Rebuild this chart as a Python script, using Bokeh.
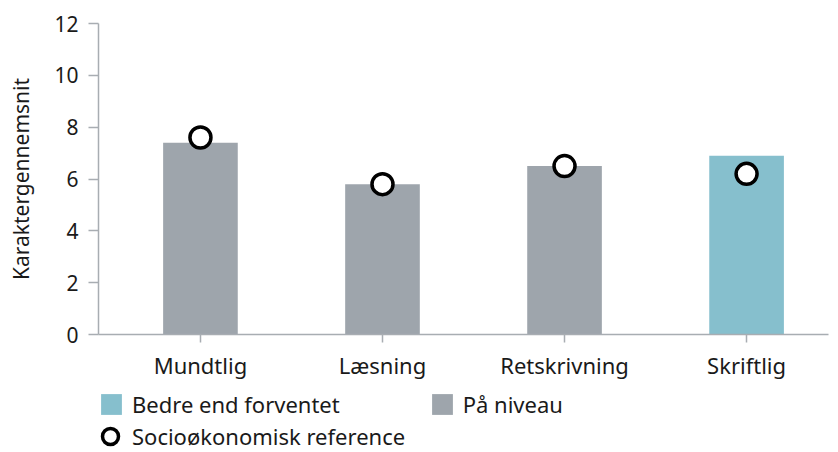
from bokeh.plotting import figure
from bokeh.layouts import column
from bokeh.models import Range1d, FixedTicker, Legend, LegendItem, ColumnDataSource
from bokeh.embed import file_html
from bokeh.resources import INLINE

categories = ["Mundtlig", "Læsning", "Retskrivning", "Skriftlig"]
karakter = [7.4, 5.8, 6.5, 6.9]
status = ["På niveau", "På niveau", "På niveau", "Bedre end forventet"]
reference = [7.6, 5.8, 6.5, 6.2]
y_ticks = [0, 2, 4, 6, 8, 10, 12]

FONT = "Noto Sans"
GRAY = "#9ea5ac"
TEAL = "#86bfcd"
AXIS = "#a8adb2"
TXT = "#1a1a1a"

xs = list(range(len(categories)))

gray_idx = [i for i, s in enumerate(status) if s == "På niveau"]
teal_idx = [i for i, s in enumerate(status) if s == "Bedre end forventet"]
src_gray = ColumnDataSource(dict(x=[xs[i] for i in gray_idx], top=[karakter[i] for i in gray_idx]))
src_teal = ColumnDataSource(dict(x=[xs[i] for i in teal_idx], top=[karakter[i] for i in teal_idx]))
src_ref = ColumnDataSource(dict(x=xs, y=reference))


def add_marks(fig):
    g = fig.vbar(x="x", top="top", bottom=0, width=0.41, source=src_gray,
                 fill_color=GRAY, line_color=None)
    t = fig.vbar(x="x", top="top", bottom=0, width=0.41, source=src_teal,
                 fill_color=TEAL, line_color=None)
    r = fig.scatter(x="x", y="y", source=src_ref, marker="circle", size=21,
                    fill_color="white", line_color="black", line_width=3.5)
    return g, t, r


p = figure(width=830, height=382, output_backend="svg", toolbar_location=None,
           x_range=Range1d(-0.56, 3.45), y_range=Range1d(0, 12),
           min_border_left=98, min_border_right=2, min_border_top=23,
           min_border_bottom=45)
p.outline_line_color = None
p.grid.visible = False
add_marks(p)

for ax in (p.xaxis[0], p.yaxis[0]):
    ax.axis_line_color = AXIS
    ax.major_tick_line_color = AXIS
    ax.minor_tick_line_color = None
    ax.major_label_text_font = FONT
    ax.major_label_text_color = TXT
    ax.axis_line_width = 1.5
    ax.major_tick_line_width = 1.5

p.yaxis.ticker = FixedTicker(ticks=y_ticks)
p.yaxis.major_label_text_font_size = "21px"
p.yaxis.major_tick_in = 0
p.yaxis.major_tick_out = 10
p.yaxis.major_label_standoff = 10
p.yaxis.axis_label = "Karaktergennemsnit"
p.yaxis.axis_label_text_font = FONT
p.yaxis.axis_label_text_font_size = "21px"
p.yaxis.axis_label_text_font_style = "normal"
p.yaxis.axis_label_text_color = TXT
p.yaxis.axis_label_standoff = 16

p.xaxis.ticker = FixedTicker(ticks=xs)
p.xaxis.major_label_overrides = {i: c for i, c in zip(xs, categories)}
p.xaxis.major_label_text_font_size = "22px"
p.xaxis.major_tick_in = 0
p.xaxis.major_tick_out = 8
p.xaxis.major_label_standoff = 7

# legend strip below the chart (marks lie outside its visible range)
lg = figure(width=830, height=70, output_backend="svg", toolbar_location=None,
            x_range=Range1d(100, 101), y_range=Range1d(100, 101),
            min_border=0, x_axis_location=None, y_axis_location=None)
lg.outline_line_color = None
lg.grid.visible = False
g2, t2, r2 = add_marks(lg)


def style(leg, glyph, standoff, spacing):
    leg.border_line_color = None
    leg.background_fill_alpha = 0
    leg.padding = 0
    leg.margin = 0
    leg.spacing = spacing
    leg.glyph_width = glyph
    leg.glyph_height = glyph
    leg.label_standoff = standoff
    leg.label_text_font = FONT
    leg.label_text_font_size = "22px"
    leg.label_text_color = TXT
    leg.label_height = 26


legend1 = Legend(items=[
    LegendItem(label="Bedre end forventet", renderers=[t2]),
    LegendItem(label="På niveau", renderers=[g2]),
], location=(0, 33), orientation="horizontal")
style(legend1, 26, 8, 89)
lg.add_layout(legend1, "center")

legend2 = Legend(items=[
    LegendItem(label="Socioøkonomisk reference", renderers=[r2]),
], location=(-8, -4), orientation="horizontal")
style(legend2, 40, 2, 0)
lg.add_layout(legend2, "center")

layout = column(p, lg, spacing=0)
open("out.html", "w").write(file_html(layout, INLINE))
